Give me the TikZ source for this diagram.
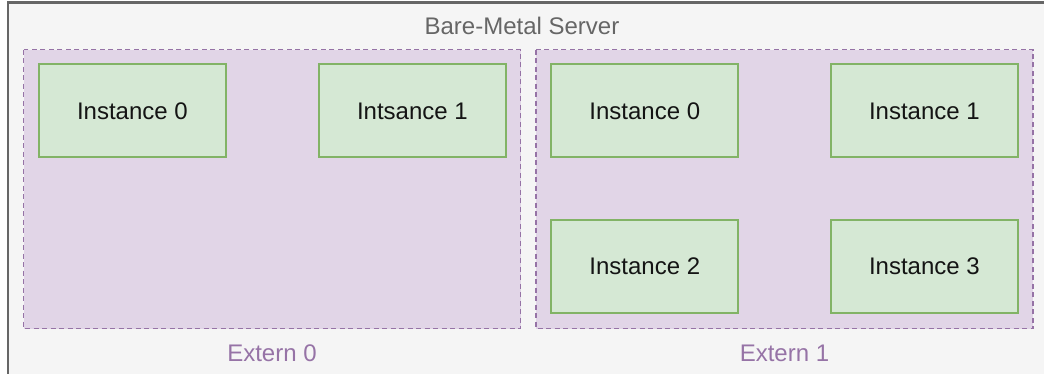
\documentclass[tikz,border=0pt]{standalone}
\usepackage{fontspec}
\setmainfont{Liberation Sans}
\begin{document}
\begin{tikzpicture}[x=1bp,y=-1bp,
  server/.style={draw=srvline,fill=srvfill,line width=2.2bp},
  extern/.style={draw=extline,fill=extfill,line width=1.8bp,dash pattern=on 5bp off 3.5bp},
  inst/.style={draw=instline,fill=instfill,line width=1.8bp,minimum width=187bp,minimum height=93bp,inner sep=0pt,
    text height=17.2bp,text depth=0bp,font=\fontsize{24bp}{28bp}\selectfont,text=black!92},
  lbl/.style={font=\fontsize{24bp}{28bp}\selectfont,inner sep=0pt,text height=17.2bp,text depth=0bp,anchor=center}]
\definecolor{srvline}{HTML}{666666}
\definecolor{srvfill}{HTML}{F5F5F5}
\definecolor{extline}{HTML}{9673A6}
\definecolor{extfill}{HTML}{E1D5E7}
\definecolor{instline}{HTML}{82B366}
\definecolor{instfill}{HTML}{D5E8D4}
\useasboundingbox (0,0) rectangle (1044,373);
\clip (0,0) rectangle (1044,373);
% host box, running past the right and lower edges
\draw[server] (8,2.5) rectangle (1060,390);
\node[lbl,text=srvline] (srv) at (522,25.5) {Bare-Metal Server};
% the two externs
\draw[extern] (23.5,49.5) rectangle (520.5,328.5);
\draw[extern] (536,49.5) rectangle (1033,328.5);
\node[lbl,text=extline] (ext0) at (272,352.5) {Extern 0};
\node[lbl,text=extline] (ext1) at (784.5,352.5) {Extern 1};
% instances of extern 0
\node[inst] (a0) at (132.4,110.8) {Instance 0};
\node[inst] (a1) at (412.4,110.8) {Intsance 1};
% instances of extern 1
\node[inst] (b0) at (644.8,110.8) {Instance 0};
\node[inst] (b1) at (924.4,110.8) {Instance 1};
\node[inst] (b2) at (644.8,266.2) {Instance 2};
\node[inst] (b3) at (924.4,266.2) {Instance 3};
\end{tikzpicture}
\end{document}
